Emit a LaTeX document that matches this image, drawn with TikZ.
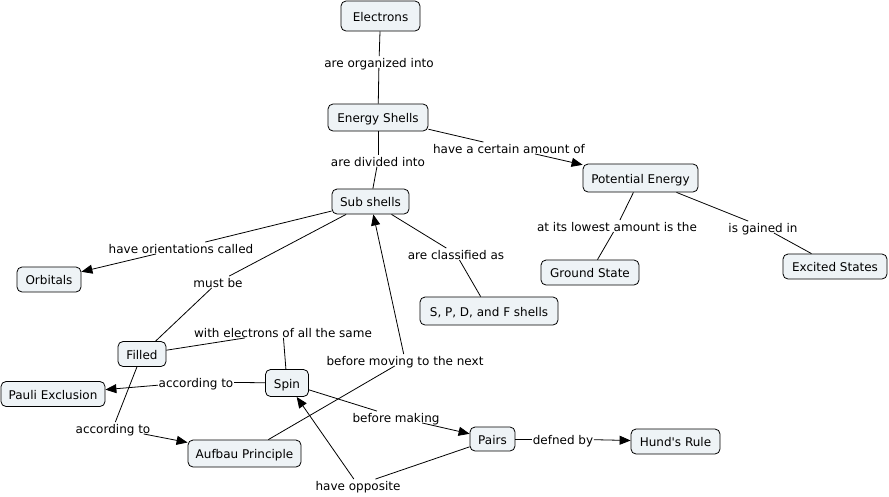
\documentclass[tikz,border=0pt]{standalone}
\usepackage{fontspec}
\setmainfont{DejaVu Sans}
\usetikzlibrary{arrows.meta}
\definecolor{boxfill}{RGB}{238,243,246}
\tikzset{
  concept/.style={draw=black, line width=0.8pt, fill=boxfill, rounded corners=5pt,
    font=\fontsize{12}{14}\selectfont, inner xsep=2pt, inner ysep=0pt, anchor=center,
    text height=10.5pt, text depth=0pt},
  linkword/.style={font=\fontsize{12}{14}\selectfont, inner sep=0.5pt, anchor=center,
    text height=10.5pt, text depth=0pt},
  conn/.style={line width=0.8pt, draw=black},
  arr/.style={conn, -{Triangle[length=11pt,width=9pt]}}
}
\begin{document}
\begin{tikzpicture}[x=1pt,y=-1pt]
\useasboundingbox (0,0) rectangle (889,496);
% concepts
\node[concept, minimum width=79pt, minimum height=30pt] (electrons) at (380.5,16) {Electrons};
\node[concept, minimum width=100pt, minimum height=27pt] (eshells) at (378,117.5) {Energy Shells};
\node[concept, minimum width=77pt, minimum height=25pt] (sub) at (370.5,201.5) {Sub shells};
\node[concept, minimum width=115pt, minimum height=28pt] (pe) at (640.5,178) {Potential Energy};
\node[concept, minimum width=98pt, minimum height=25pt] (ground) at (590,272.5) {Ground State};
\node[concept, minimum width=104pt, minimum height=25pt] (excited) at (835,266.5) {Excited States};
\node[concept, minimum width=64pt, minimum height=25pt] (orbitals) at (49,279.5) {Orbitals};
\node[concept, minimum width=138pt, minimum height=28pt] (spdf) at (489,311) {S, P, D, and F shells};
\node[concept, minimum width=48pt, minimum height=25pt] (filled) at (142,354) {Filled};
\node[concept, minimum width=104pt, minimum height=25pt] (pauli) at (53,394) {Pauli Exclusion};
\node[concept, minimum width=43pt, minimum height=27pt] (spin) at (287,383) {Spin};
\node[concept, minimum width=113pt, minimum height=27pt] (aufbau) at (244.5,453.5) {Aufbau Principle};
\node[concept, minimum width=45pt, minimum height=24pt] (pairs) at (492.5,439) {Pairs};
\node[concept, minimum width=89pt, minimum height=25pt] (hund) at (675.5,441.5) {Hund\textquotesingle s Rule};
% linking words
\node[linkword] (l1) at (379,62) {are organized into};
\node[linkword] (l2) at (378,161) {are divided into};
\node[linkword] (l3) at (509,148) {have a certain amount of};
\node[linkword] (l4) at (617,226) {at its lowest amount is the};
\node[linkword] (l5) at (763,227) {is gained in};
\node[linkword] (l6) at (181,248) {have orientations called};
\node[linkword] (l7) at (218,282) {must be};
\node[linkword] (l8) at (456,254) {are classified as};
\node[linkword] (l9) at (283,332) {with electrons of all the same};
\node[linkword] (l10) at (405,360) {before moving to the next};
\node[linkword] (l11) at (196,382) {according to};
\node[linkword] (l12) at (113,428) {according to};
\node[linkword] (l13) at (396,417) {before making};
\node[linkword] (l14) at (358,485) {have opposite};
\node[linkword] (l15) at (563,439) {defned by};
% connectors
\draw[conn] (electrons) -- (l1);
\draw[conn] (l1) -- (eshells);
\draw[conn] (eshells) -- (l2);
\draw[conn] (l2) -- (sub);
\draw[conn] (eshells) -- (l3);
\draw[arr] (l3) -- (pe);
\draw[conn] (pe) -- (l4);
\draw[conn] (l4) -- (ground);
\draw[conn] (pe) -- (l5);
\draw[conn] (l5) -- (excited);
\draw[conn] (sub) -- (l6);
\draw[arr] (l6) -- (orbitals);
\draw[conn] (sub) -- (l7);
\draw[conn] (l7) -- (filled);
\draw[conn] (sub) -- (l8);
\draw[conn] (l8) -- (spdf);
\draw[conn] (filled) -- (l9);
\draw[conn] (l9) -- (spin);
\draw[conn] (aufbau) -- (l10);
\draw[arr] (l10) -- (sub);
\draw[conn] (spin) -- (l11);
\draw[arr] (l11) -- (pauli);
\draw[conn] (filled) -- (l12);
\draw[arr] (l12) -- (aufbau);
\draw[conn] (spin) -- (l13);
\draw[arr] (l13) -- (pairs);
\draw[conn] (pairs) -- (l14);
\draw[arr] (l14) -- (spin);
\draw[conn] (pairs) -- (l15);
\draw[arr] (l15) -- (hund);
\end{tikzpicture}
\end{document}
